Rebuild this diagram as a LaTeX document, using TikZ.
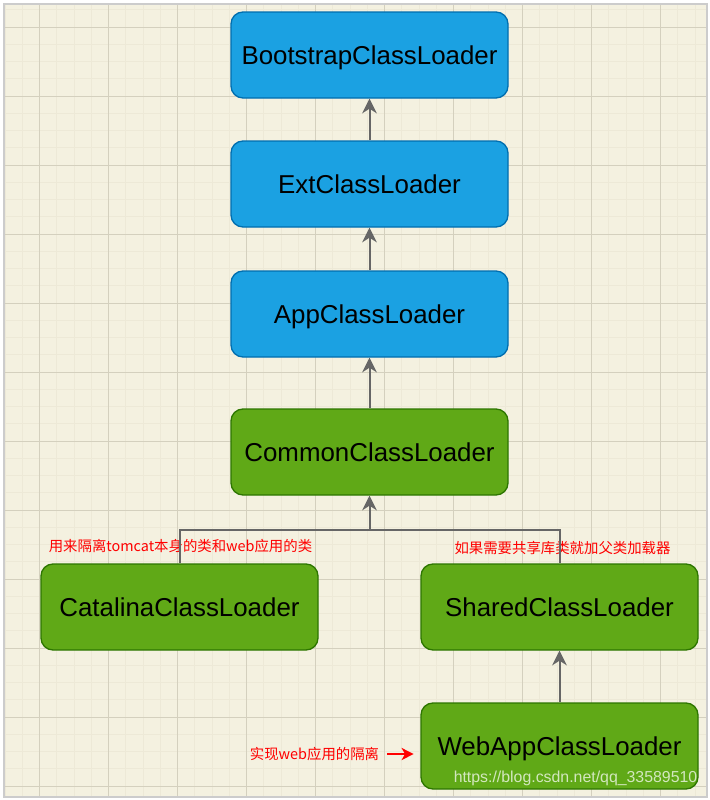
\documentclass[tikz,border=0pt]{standalone}
\usepackage{fontspec}
\setmainfont{Liberation Sans}
\newfontfamily\cjk{Noto Sans CJK SC}
\usetikzlibrary{positioning,arrows.meta}
\definecolor{bluefill}{HTML}{1BA1E2}
\definecolor{blueline}{HTML}{006EAF}
\definecolor{greenfill}{HTML}{60A917}
\definecolor{greenline}{HTML}{2D7600}
\definecolor{paper}{RGB}{244,241,224}
\definecolor{gridmajor}{RGB}{212,208,190}
\definecolor{gridminor}{RGB}{237,233,215}
\definecolor{edgegray}{RGB}{102,102,102}

\begin{document}
\begin{tikzpicture}[x=0.75pt, y=0.75pt,
  loader/.style={draw, rounded corners=9pt, line width=1pt,
    minimum width=207.75pt, minimum height=64.5pt, inner sep=0pt,
    text height=13.9pt, text depth=0pt,
    font=\fontsize{19.4}{23}\selectfont},
  bluebox/.style={loader, fill=bluefill, draw=blueline},
  greenbox/.style={loader, fill=greenfill, draw=greenline},
  redtext/.style={text=red, inner sep=1pt, font=\cjk\fontsize{10.8}{12}\selectfont},
  wmtext/.style={text=white, opacity=0.72, inner sep=0pt, font=\fontsize{11.9}{14}\selectfont},
  arr/.style={draw=edgegray, line width=1.5pt, -{Stealth[length=11pt, width=11pt, inset=3.5pt]}},
  link/.style={draw=edgegray, line width=1.5pt},
  redarr/.style={draw=red, line width=1.8pt, -{Stealth[length=9pt, width=9pt, inset=2.5pt]}}]
\fill[white] (0,0) rectangle (710,-800);
\fill[paper] (4,-4) rectangle (707,-797);
\foreach \i in {0,...,40} \draw[gridminor, line width=0.6pt] ({5+17.25*\i},-4) -- ({5+17.25*\i},-797);
\foreach \i in {0,...,45} \draw[gridminor, line width=0.6pt] (4,{-9.75-17.25*\i}) -- (707,{-9.75-17.25*\i});
\foreach \i in {0,...,9} \draw[gridmajor, line width=0.75pt] ({39.5+69*\i},-4) -- ({39.5+69*\i},-797);
\foreach \i in {0,...,11} \draw[gridmajor, line width=0.75pt] (4,{-27-69*\i}) -- (707,{-27-69*\i});
\draw[black!20, line width=1.5pt] (3.5,-3.5) rectangle (707,-797);
\node[bluebox] (boot) at (369.5,-55) {BootstrapClassLoader};
\node[bluebox, below=31.25pt of boot] (ext) {ExtClassLoader};
\node[bluebox, below=32pt of ext] (app) {AppClassLoader};
\node[greenbox, below=38pt of app] (com) {CommonClassLoader};
\node[greenbox, below=50.75pt of com, xshift=-142.5pt] (cat) {CatalinaClassLoader};
\node[greenbox, below=50.75pt of com, xshift=142.5pt] (shr) {SharedClassLoader};
\node[greenbox, below=38.75pt of shr] (web) {WebAppClassLoader};
\coordinate (j) at (369.5,-530);
\node[redtext] (catnote) at (180.5,-546) {用来隔离tomcat本身的类和web应用的类};
\node[redtext] (shrnote) at (562.5,-548) {如果需要共享库类就加父类加载器};
\node[redtext] (webnote) at (314.5,-754) {实现web应用的隔离};
\node[wmtext] (wm) at (575.5,-778) {https://blog.csdn.net/qq\_33589510};
\draw[arr] (ext) -- (boot);
\draw[arr] (app) -- (ext);
\draw[arr] (com) -- (app);
\draw[arr] (cat.north) |- (j) -- (com.south);
\draw[link] (shr.north) |- (j);
\draw[arr] (web) -- (shr);
\draw[redarr, shorten <=5pt, shorten >=5pt] (webnote.east) -- (webnote.east -| web.west);
\end{tikzpicture}
\end{document}
